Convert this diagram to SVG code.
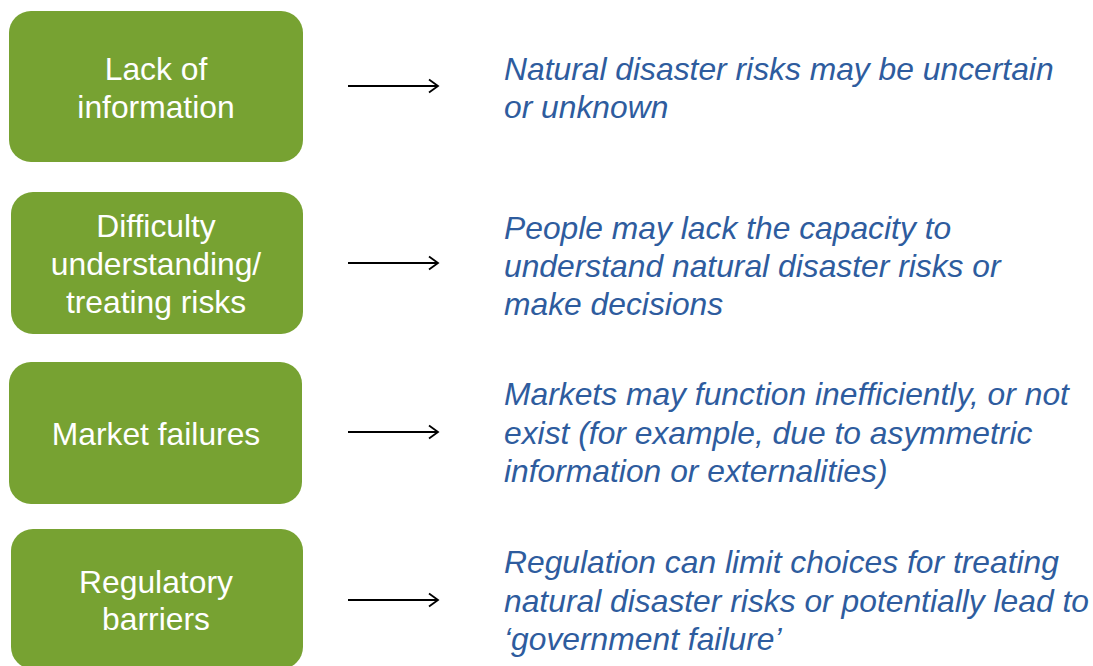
<svg xmlns="http://www.w3.org/2000/svg" width="1093" height="666" viewBox="0 0 1093 666">
<defs>
<style>
.box{fill:#77A232;}
.bt{font-family:"Liberation Sans",Arial,sans-serif;font-size:31.8px;fill:#FFFFFF;text-anchor:middle;}
.dt{font-family:"Liberation Sans",Arial,sans-serif;font-size:31.8px;font-style:italic;fill:#2E5C9E;}
.ar{stroke:#000;stroke-width:1.8;fill:none;}
</style>
<marker id="ah" markerWidth="12" markerHeight="16" refX="10" refY="8" orient="auto" markerUnits="userSpaceOnUse">
<path d="M1,1.5 L10,8 L1,14.5" fill="none" stroke="#000" stroke-width="1.8"/>
</marker>
</defs>
<rect width="1093" height="666" fill="#fff"/>
<g id="node-lack">
<rect class="box" x="9" y="11" width="294" height="151" rx="22"/>
<text class="bt" x="156" y="80">Lack of</text>
<text class="bt" x="156" y="118">information</text>
</g>
<g id="node-difficulty">
<rect class="box" x="11" y="192" width="292" height="142" rx="22"/>
<text class="bt" x="156" y="237">Difficulty</text>
<text class="bt" x="156" y="275">understanding/</text>
<text class="bt" x="156" y="313">treating risks</text>
</g>
<g id="node-market">
<rect class="box" x="9" y="362" width="293" height="142" rx="22"/>
<text class="bt" x="156" y="445">Market failures</text>
</g>
<g id="node-regulatory">
<rect class="box" x="11" y="529" width="292" height="140" rx="22"/>
<text class="bt" x="156" y="593">Regulatory</text>
<text class="bt" x="156" y="630">barriers</text>
</g>
<g id="desc-lack">
<text class="dt" x="504" y="80">Natural disaster risks may be uncertain</text>
<text class="dt" x="504" y="118">or unknown</text>
</g>
<g id="desc-difficulty">
<text class="dt" x="504" y="239">People may lack the capacity to</text>
<text class="dt" x="504" y="277">understand natural disaster risks or</text>
<text class="dt" x="504" y="315">make decisions</text>
</g>
<g id="desc-market">
<text class="dt" x="504" y="405">Markets may function inefficiently, or not</text>
<text class="dt" x="504" y="444">exist (for example, due to asymmetric</text>
<text class="dt" x="504" y="482">information or externalities)</text>
</g>
<g id="desc-regulatory">
<text class="dt" x="504" y="573">Regulation can limit choices for treating</text>
<text class="dt" x="504" y="612">natural disaster risks or potentially lead to</text>
<text class="dt" x="504" y="650">‘government failure’</text>
</g>
<g id="connectors">
<line class="ar" x1="348" y1="86" x2="438" y2="86" marker-end="url(#ah)"/>
<line class="ar" x1="348" y1="263" x2="438" y2="263" marker-end="url(#ah)"/>
<line class="ar" x1="348" y1="432" x2="438" y2="432" marker-end="url(#ah)"/>
<line class="ar" x1="348" y1="600" x2="438" y2="600" marker-end="url(#ah)"/>
</g>
</svg>
